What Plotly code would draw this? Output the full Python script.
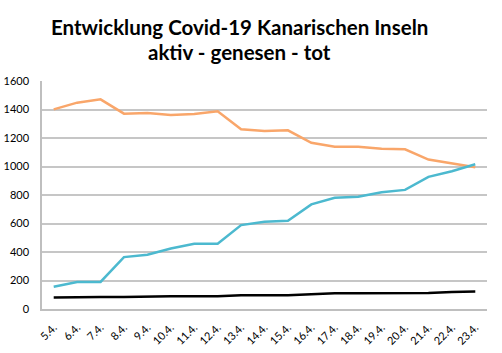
import plotly.graph_objects as go

dates = ["5.4.", "6.4.", "7.4.", "8.4.", "9.4.", "10.4.", "11.4.", "12.4.", "13.4.", "14.4.",
         "15.4.", "16.4.", "17.4.", "18.4.", "19.4.", "20.4.", "21.4.", "22.4.", "23.4."]
aktiv = [1401, 1448, 1471, 1371, 1376, 1362, 1369, 1388, 1261, 1250,
         1254, 1166, 1138, 1138, 1124, 1121, 1049, 1021, 995]
genesen = [156, 189, 190, 364, 381, 425, 458, 458, 589, 612,
           619, 734, 780, 787, 820, 836, 927, 967, 1016]
tot = [80, 84, 85, 85, 90, 90, 90, 90, 97, 97,
       97, 103, 110, 110, 112, 112, 112, 120, 122]
y_ticks = [0, 200, 400, 600, 800, 1000, 1200, 1400, 1600]
title_lines = ["Entwicklung Covid-19 Kanarischen Inseln", "aktiv - genesen - tot"]

fig = go.Figure()
fig.add_trace(go.Scatter(x=dates, y=aktiv, mode="lines", name="aktiv",
                         line=dict(color="#F9A66A", width=2.5)))
fig.add_trace(go.Scatter(x=dates, y=genesen, mode="lines", name="genesen",
                         line=dict(color="#4CB9CF", width=2.5)))
fig.add_trace(go.Scatter(x=dates, y=tot, mode="lines", name="tot",
                         line=dict(color="#000000", width=2.5)))

for i, line in enumerate(title_lines):
    fig.add_annotation(text="<b>" + line + "</b>", showarrow=False,
                       xref="paper", yref="paper",
                       x=(239 - 42) / 445, xanchor="center",
                       y=(309 - (27 + 25 * i)) / 228, yanchor="middle",
                       font=dict(size=20.5, family="Lato, sans-serif", color="#000000"))

fig.update_layout(
    width=502, height=353,
    margin=dict(l=42, r=15, t=81, b=44, autoexpand=False),
    paper_bgcolor="white", plot_bgcolor="white",
    showlegend=False,
    font=dict(family="Lato, Open Sans, sans-serif", color="#000000"),
    xaxis=dict(type="category", tickangle=-45, showgrid=False,
               range=[-0.5, len(dates) - 0.5], automargin=False,
               showline=True, linecolor="#BFBFBF", linewidth=1.5,
               ticks="", ticklabelstandoff=6,
               tickfont=dict(size=11, family="Lato, sans-serif")),
    yaxis=dict(range=[0, 1600], tickvals=y_ticks, showgrid=True,
               gridcolor="#C6C6C6", gridwidth=1.5, zeroline=False,
               automargin=False,
               showline=True, linecolor="#BFBFBF", linewidth=1.5,
               ticks="", ticklabelstandoff=9,
               tickfont=dict(size=11, family="Lato, sans-serif")),
)

fig.write_html("out.html")
